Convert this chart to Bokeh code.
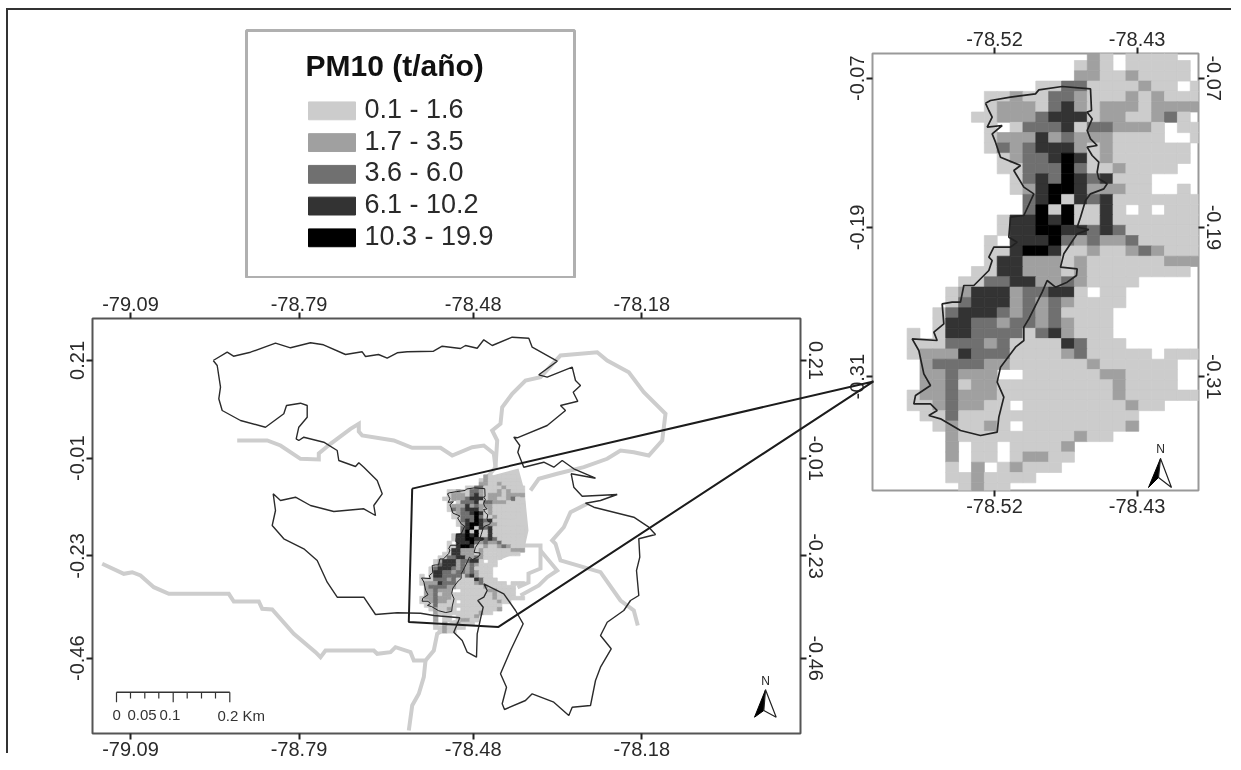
from bokeh.plotting import figure
from bokeh.models import Range1d, LinearAxis, FixedTicker, NumeralTickFormatter, ColumnDataSource, Column, Div
from bokeh.core.properties import value
from bokeh.embed import file_html
from bokeh.resources import INLINE

FONT = "Liberation Sans"

# ---------- categories ----------
legend_title = "PM10 (t/año)"
class_labels = ["0.1 - 1.6", "1.7 - 3.5", "3.6 - 6.0", "6.1 - 10.2", "10.3 - 19.9"]
class_colors = ["#cccccc", "#a0a0a0", "#707070", "#333333", "#000000"]

# ---------- ticks ----------
main_lon_ticks = [-79.09, -78.79, -78.48, -78.18]
main_lat_ticks = [0.21, -0.01, -0.23, -0.46]
inset_lon_ticks = [-78.52, -78.43]
inset_lat_ticks = [-0.07, -0.19, -0.31]

scale_labels = ["0", "0.05", "0.1", "0.2 Km"]

# ---------- PM10 class per grid cell (0 = no data), north to south ----------
pm10_rows = [
 "00000000000000000210111100",
 "00000000000000001210111110",
 "00000000000000002211211110",
 "00000000000001133111121101",
 "00000000011211332111212111",
 "00000000012221342122212222",
 "00000000112223444122112310",
 "00000000010133341332221011",
 "00000000012224232221111001",
 "00000000013234442121111110",
 "00000000001233454121111110",
 "00000000001133353112111100",
 "00000000000134354341110000",
 "00000000000124554222110010",
 "00000000000034514341111111",
 "00000000000035151141010111",
 "00000000001445451141111111",
 "00000000001445544343111111",
 "00000000010444532322311111",
 "00000000011455411211232111",
 "00000000014422212111111222",
 "00000000114422212111111110",
 "00000001133442232111100000",
 "00000012444233441011000000",
 "00000013444232321111000000",
 "00000134443232311110000000",
 "00000144332332321110000000",
 "00010144333313421110000000",
 "00011133323111143111000000",
 "00012224333111123111110111",
 "00002333322111111211111100",
 "00002232220011111122111100",
 "00002231221111111112111100",
 "00012232221111111112111111",
 "00011232211011111111211000",
 "00001131111111111111100000",
 "00000121121011111111200000",
 "00000021111111112110000000",
 "00000020110111120000000000",
 "00000020110122110000000000",
 "00000010201211100000000000",
 "00000011211110000000000000",
 "00000001211000000000000000",
]

# ---------- digitised outline of the central district, in inset survey units ----------
district_u = [375,390,450,525,535,605,690,693,680,695,680,690,710,680,695,715,710,715,740,730,690,675,660,650,685,650,610,600,650,648,620,585,
              560,545,520,505,490,490,465,420,410,430,415,410,360,300,240,205,230,210,160,165,210,190,175,155,230,220,250,245,275,300,310,340,385,395,
              385,400,450,470,445,450,490,520,490,460,480,420,405,395,425,380,395,385,375]
district_v = [218,210,200,190,178,168,175,240,245,265,300,325,345,350,375,395,425,445,460,475,490,510,560,590,597,610,670,710,715,735,755,770,
              750,785,835,865,890,930,950,1010,1055,1100,1160,1205,1215,1200,1165,1155,1140,1120,1120,1095,1065,1030,960,925,930,905,880,820,815,815,765,765,720,690,
              680,650,650,635,620,560,555,490,470,420,405,380,335,310,285,290,260,240,218]

# ---------- digitised outer boundary, in survey units ----------
boundary_x = [212.7,226.7,233,250,275,290,310,323,345,361.7,365,378,386.7,396.7,406.7,433,441.7,460,465,476.7,483.3,491.7,511.7,528.3,531.7,556.7,538.3,546.7,571.7,575,580,572.7,577.3,560,565,546.7,516.7,513.3,519.3,517.3,523.3,543.3,553.3,561.7,573.3,595,570.7,573.3,581.7,616.7,600,585,593.3,613.3,633.3,648.3,655,638.3,639.3,636,638.3,630,623.3,606.7,600,610.7,600,595,590,571.7,568.3,553.3,531.7,525,504,501.7,506,500,510,522.7,515,503.3,483.3,486.7,483.3,477.3,482.7,480,476.7,476,466.7,461.7,453.3,459.3,433.3,420,396.7,375,363.3,336.7,326.7,316.7,303.3,283.3,271.7,275,272.7,280,295,310,333.3,363.3,375,373.3,381.7,376.7,363.3,358.3,355,338.3,336.7,323.3,303.3,298.3,295.7,298.3,306.7,306.7,300,286,283.3,265,240,221.7,218.3,220,216.7,212.7]
boundary_y = [360,351.7,355.7,351.7,342.7,347.3,342.3,344.3,354,351.3,356,354,357.7,352.3,351.3,350.7,345.7,348,345,347.7,339.3,345,336.7,337.7,346.7,360.7,374.3,376.7,366.7,380,385,391.7,400.7,405,410,425,437.3,436.7,445,451.7,466.7,461.7,466.7,460,468.3,477.7,473.3,486.7,495.7,494,500,502.7,506.7,511.7,516.7,526.7,534,538.3,556.7,570,595,600,610,621.7,635,648.3,666.7,680,705,706.7,715,701.7,693.3,700,709,703.3,686.7,673.3,650,623.3,610,593.3,583.3,590,596.7,600,606.7,618.3,633.3,656.7,651.7,640,631.7,617.3,615,612.7,612.3,614,596.7,596.7,581.7,560,548.3,538.3,525,510,493.3,500,496.7,505,511,508.3,515,505,493.3,480,466.7,462.3,466,460,450,441.7,436.7,440,438.3,426.7,416.7,405,402.7,405,413.3,426.7,420,410,398.3,386.7,365,360]

# ---------- digitised rivers, in survey units ----------
rivers = [
 ([101.7,123.3,131.7,140,153.3,168.3,228.3,233.3,258.3,261.7,271.7,293.3,315,320,325,373.3,376.7,390,395,410,413.3,425,433.3,436.7,445],
  [563.3,573.3,571.7,575,586.7,593.3,593.3,601,601,608.3,609,633.3,651.7,656.7,650,650,653.3,651.7,646.7,651.7,660,660,650,633.3,628.3]),
 ([425,423.3,418.3,411.7,408.3], [660,676.7,693.3,705,730]),
 ([236.7,266.7,280,300,318.3,318.3,330,350,358.3,358.3,361.7,393.3,411.7,440,451.7,471.7,483.3,493.3,495,486.7],
  [440,440,445,458.3,459,453,443.3,428.3,423.3,431,435,440,447.3,447.3,455,446.7,445,453,466.7,476.7]),
 ([495,496.7,491.7,500,501.7,511.7,525,540,560,596.7,606.7,628.3,643.3,665,661.7,648.3,633.3,620,606.7,583.3,556.7,538.3,530],
  [466.7,440,430,423.3,406.7,393.3,380,376.7,355,351.7,360,371.7,391.7,413.3,440,455,451.7,450,458.3,466.7,473.3,478.3,490]),
 ([586.7,570,563.3,551.7,555,560,600,620,633.3,637.3], [503.3,511.7,526.7,540,543.3,560,571.7,600,610,625]),
 ([540,556.7,546.7,538.3,520], [550,570,576.7,585,595]),
 ([523,540,540,528,528,517], [545,545,568,573,582,587]),
 ([445,452,460,470,495], [628.3,622,620,618,606]),
]
light_patch_x = [488,518,524,528,524,518,498,492]
light_patch_y = [476,468,490,530,548,552,560,500]

# ---------- digitised inset/connector, north arrow, scale bar, in survey units ----------
connector_x = [411.7,873,498,408.3,411.7]
connector_y = [489,381,628.3,623.3,489]
scale_ticks = [116,130,144.3,158.3,172.7,186.7,201,215,229.3]
scale_long = [1,0,0,0,1,0,0,0,1]
scale_label_x = [112,127,159,217]

def main_lon(px): return -78.48 + (px - 472.7) * 0.00178
def main_lat(py): return -0.01 - (py - 457.7) * 0.00225
def ins_lon(px): return -78.52 + (px - 994.0) * 0.000631
def ins_lat(py): return -0.07 - (py - 77.7) * 0.000804

district_lon = [ins_lon(860 + u / 3) for u in district_u]
district_lat = [ins_lat(30 + v / 3) for v in district_v]

cell = dict(left=[], right=[], top=[], bottom=[], color=[])
for r, row in enumerate(pm10_rows):
    for k, ch in enumerate(row):
        if ch != "0":
            cell["left"].append(ins_lon(868 + 12.87 * k))
            cell["right"].append(ins_lon(868 + 12.87 * (k + 1)))
            cell["top"].append(ins_lat(49.7 + 10.3 * r))
            cell["bottom"].append(ins_lat(49.7 + 10.3 * (r + 1)))
            cell["color"].append(class_colors[int(ch) - 1])


def style_axis(ax, ticks, size, orient=None):
    ax.ticker = FixedTicker(ticks=ticks)
    ax.formatter = NumeralTickFormatter(format="0.00")
    ax.major_tick_out = 6
    ax.major_tick_in = 0
    ax.minor_tick_out = 0
    ax.minor_tick_in = 0
    ax.major_tick_line_color = "#222222"
    ax.major_tick_line_width = 2
    ax.axis_line_color = None
    ax.major_label_text_font = FONT
    ax.major_label_text_font_size = size
    ax.major_label_text_color = "#2a2a2a"
    ax.major_label_standoff = 2
    if orient is not None:
        ax.major_label_orientation = orient


def map_fig(xr, yr, w, h, border_v, lon_t, lat_t, outline, border_b):
    p = figure(width=w, height=h, x_range=Range1d(*xr), y_range=Range1d(*yr),
               output_backend="svg", toolbar_location=None, min_border_left=40,
               min_border_right=40, min_border_top=border_v, min_border_bottom=border_b)
    p.xgrid.visible = False
    p.ygrid.visible = False
    p.add_layout(LinearAxis(), "above")
    p.add_layout(LinearAxis(), "right")
    for ax in p.below + p.above:
        style_axis(ax, lon_t, "20px")
    for ax in p.left + p.right:
        style_axis(ax, lat_t, "20px", "vertical")
    p.outline_line_color = outline
    p.outline_line_width = 2
    p.background_fill_color = "white"
    p.border_fill_color = None
    return p


def bare_fig(xr, yr, w, h):
    p = figure(width=w + 80, height=h, x_range=Range1d(*xr), y_range=Range1d(*yr),
               x_axis_location=None, y_axis_location=None,
               output_backend="svg", toolbar_location=None, min_border_left=40, min_border_right=40,
               min_border_top=1, min_border_bottom=1)
    p.xgrid.visible = False
    p.ygrid.visible = False
    p.border_fill_color = None
    return p


def north(p, lon, lat, tip, left, mid, right, nx, ny):
    xs = [lon(v[0]) for v in (tip, left, mid)]
    ys = [lat(v[1]) for v in (tip, left, mid)]
    p.patch(xs, ys, fill_color="black", line_color="black", line_width=1)
    xs = [lon(v[0]) for v in (tip, mid, right)]
    ys = [lat(v[1]) for v in (tip, mid, right)]
    p.patch(xs, ys, fill_color="white", line_color="#222222", line_width=1.2)
    p.text([lon(nx)], [lat(ny)], text=["N"], text_font=value(FONT), text_font_size="12px",
           text_align="center", text_baseline="middle", text_color="#222222")


# ---------- main map ----------
main = map_fig((main_lon(92), main_lon(800)), (main_lat(733), main_lat(318)), 788, 490, 40,
               main_lon_ticks, main_lat_ticks, "#555555", 35)
main.patch([main_lon(v) for v in light_patch_x], [main_lat(v) for v in light_patch_y],
           fill_color=class_colors[0], line_color=None)
for rx, ry in rivers:
    main.line([main_lon(v) for v in rx], [main_lat(v) for v in ry], line_color="#cdcdcd", line_width=4,
              line_join="miter")
src = ColumnDataSource(cell)
main.quad(left="left", right="right", top="top", bottom="bottom", fill_color="color", line_color="color",
          line_width=0.7, source=src)
main.line([main_lon(v) for v in boundary_x], [main_lat(v) for v in boundary_y], line_color="#2b2b2b", line_width=1.4)
main.line(district_lon, district_lat, line_color="#222222", line_width=1)
# scale bar
main.line([main_lon(scale_ticks[0]), main_lon(scale_ticks[-1])], [main_lat(691.7)] * 2, line_color="#333333", line_width=1.4)
main.segment([main_lon(v) for v in scale_ticks], [main_lat(691.7)] * 9,
             [main_lon(v) for v in scale_ticks], [main_lat(701.7 if s else 698) for s in scale_long],
             line_color="#333333", line_width=1.2)
main.text([main_lon(v) for v in scale_label_x], [main_lat(714.5)] * 4, text=scale_labels, text_font=value(FONT),
          text_font_size="15px", text_baseline="middle", text_color="#333333")
north(main, main_lon, main_lat, (765, 689.3), (754, 716.7), (763.3, 710), (775.7, 716.7), 765, 680.5)

# ---------- inset ----------
inset = map_fig((ins_lon(872), ins_lon(1198)), (ins_lat(490), ins_lat(53)), 406, 505, 34,
                inset_lon_ticks, inset_lat_ticks, "#999999", 34)
inset.quad(left="left", right="right", top="top", bottom="bottom", fill_color="color", line_color="color",
           line_width=0.7, source=ColumnDataSource(cell))
inset.line(district_lon, district_lat, line_color="#222222", line_width=1.7)
north(inset, ins_lon, ins_lat, (1160, 458), (1148, 487), (1158, 477), (1171, 487), 1160, 448.5)

# ---------- legend ----------
leg = bare_fig((246, 574), (278, 29), 328, 249)
leg.outline_line_color = "#b0b0b0"
leg.outline_line_width = 3
ys = [110 + 32 * i for i in range(len(class_labels))]
leg.quad(left=[308] * 5, right=[355] * 5, top=[y - 9 for y in ys], bottom=[y + 9 for y in ys],
         fill_color=class_colors, line_color=class_colors)
leg.text([364] * 5, [y - 2 for y in ys], text=class_labels, text_font=value(FONT), text_font_size="27px",
         text_baseline="middle", text_color="#2a2a2a")
leg.text([305], [64], text=[legend_title], text_font=value(FONT), text_font_size="30px", text_font_style="bold",
         text_baseline="middle", text_color="#111111")

# ---------- overlay: connector from the main map to the inset ----------
over = bare_fig((main_lon(400), main_lon(880)), (main_lat(640), main_lat(370)), 480, 270)
over.outline_line_color = None
over.background_fill_color = None
over.line([main_lon(v) for v in connector_x], [main_lat(v) for v in connector_y], line_color="#1c1c1c", line_width=2)

# page rule along the top and left edge
rule = Div(text="", width=1230, height=745)


def place(obj, left, top, blur=True):
    obj.styles = {"position": "absolute", "left": f"{left}px", "top": f"{top}px"}
    if blur:
        obj.styles["filter"] = "blur(0.5px)"
    return obj

rule = place(rule, 1, 3, blur=False)
rule.styles["border-top"] = "2px solid #333333"
rule.styles["border-left"] = "2px solid #333333"

root = Column(children=[rule, place(leg, 206, 29), place(main, 52, 278), place(inset, 832, 19), place(over, 360, 369)],
              width=1225, height=754)
open("out.html", "w").write(file_html(root, INLINE))
